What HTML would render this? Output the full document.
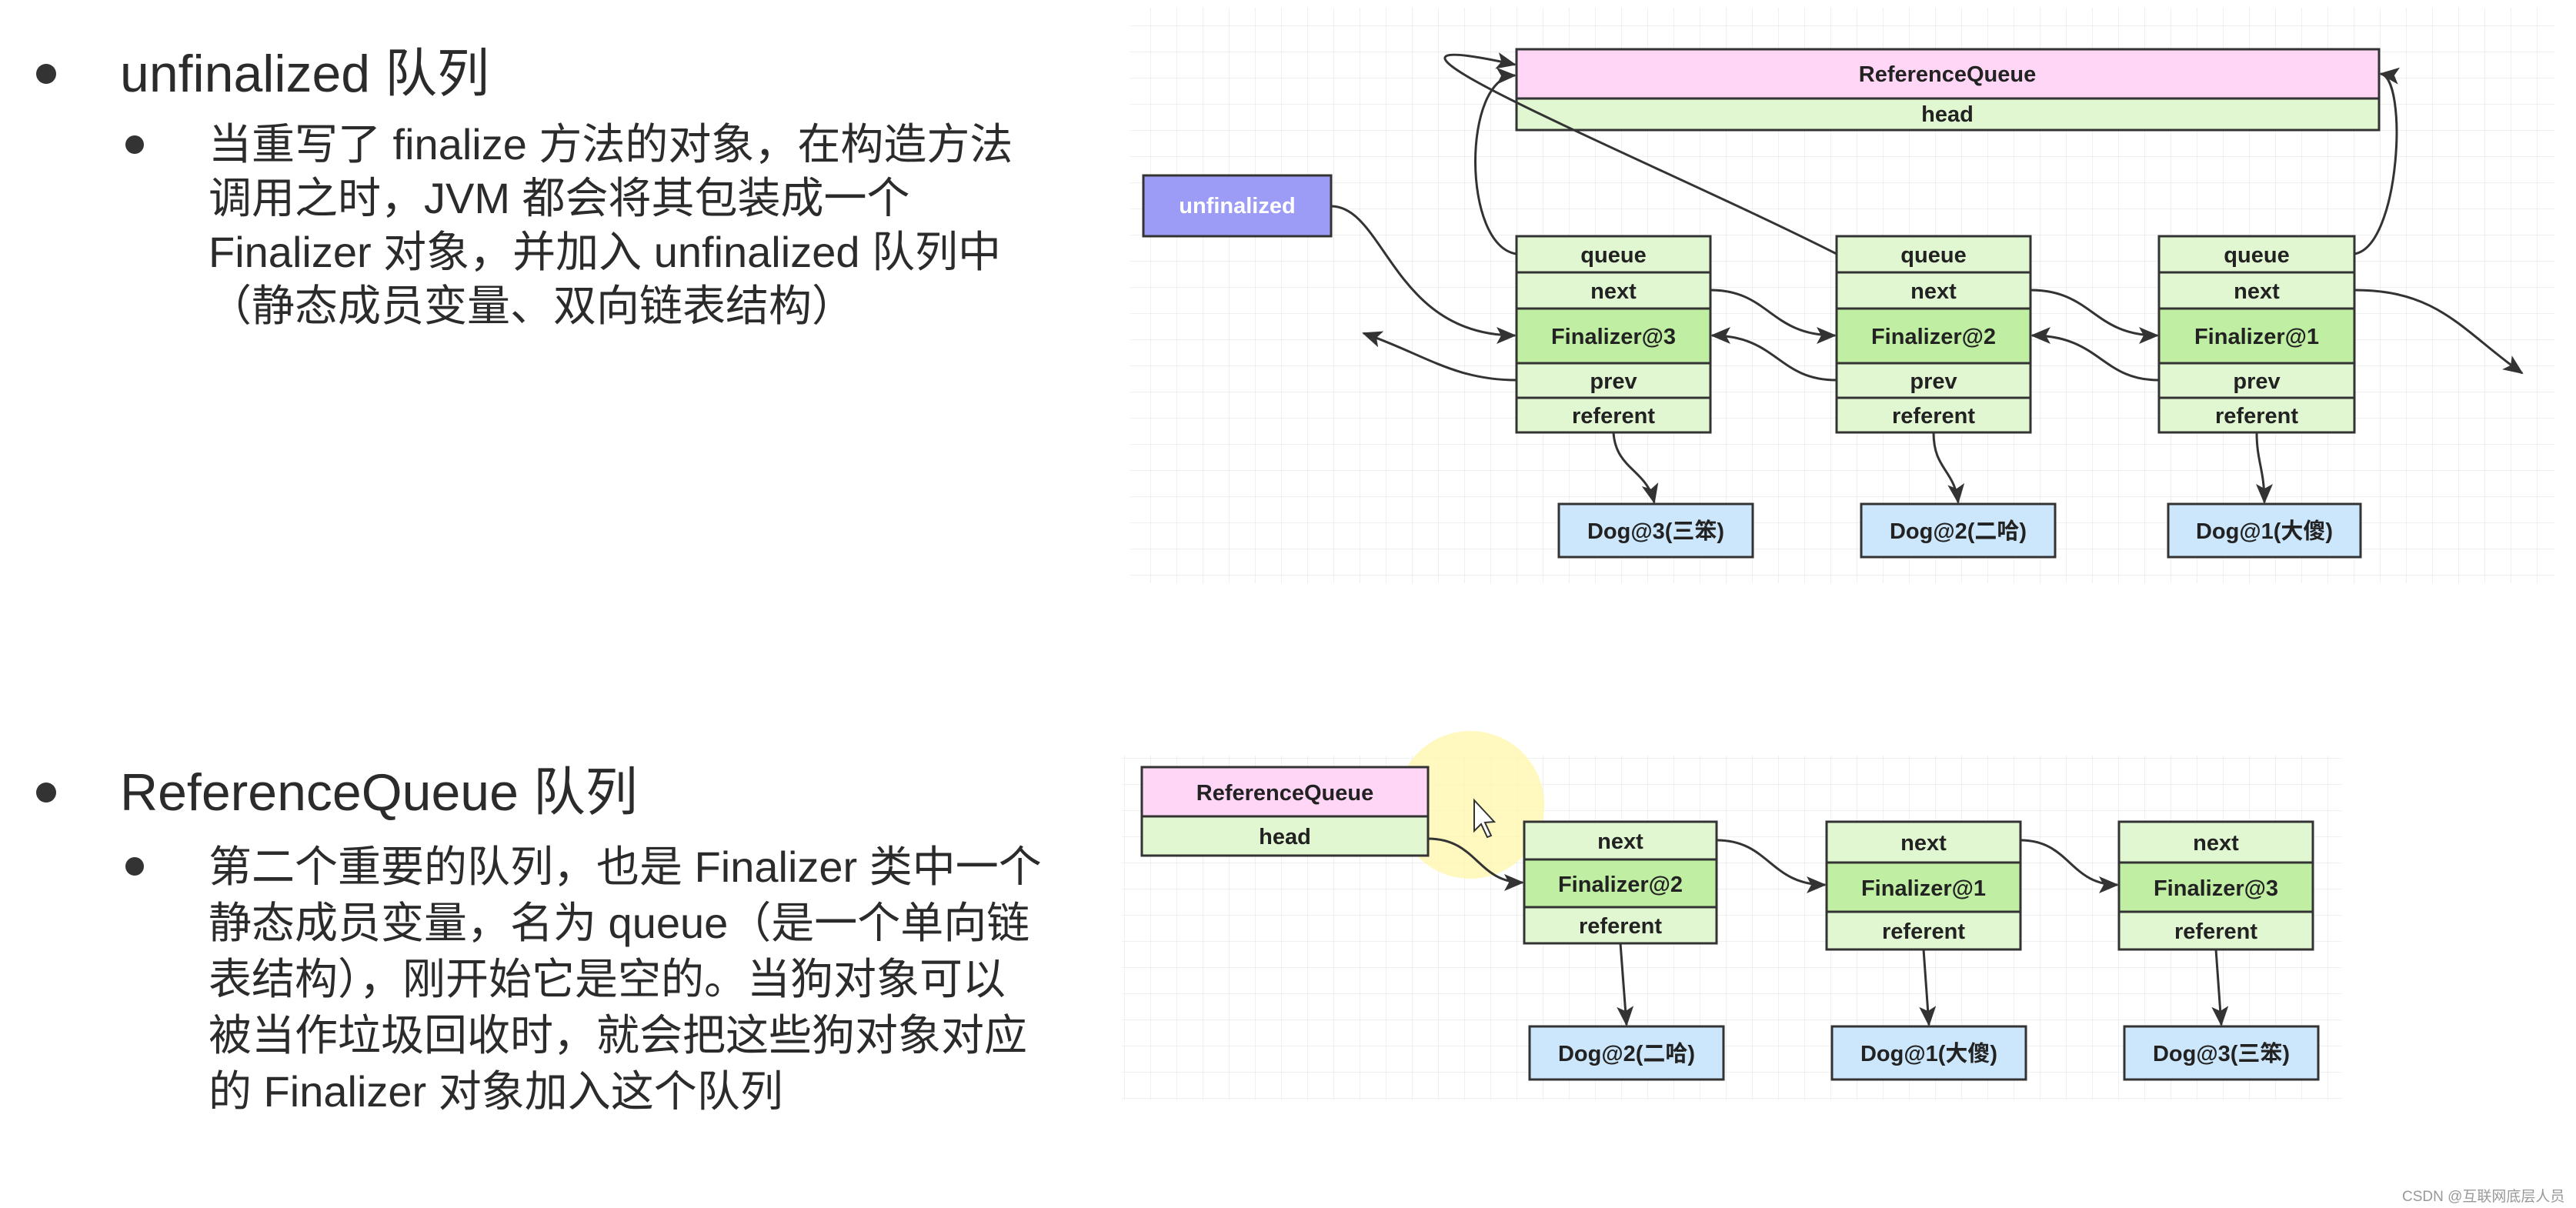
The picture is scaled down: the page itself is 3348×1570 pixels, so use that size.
<!DOCTYPE html>
<html><head><meta charset="utf-8"><style>
html,body{margin:0;padding:0;background:#fff;}
body{width:3348px;height:1570px;position:relative;overflow:hidden;font-family:"Liberation Sans","Noto Sans CJK SC",sans-serif;}
.t{position:absolute;color:#2b2b2b;white-space:nowrap;}
.h{font-size:68px;left:156px;line-height:68px;}
.p{font-size:56px;left:271px;}
.dot{position:absolute;border-radius:50%;background:#333;}
</style></head><body>
<div class="dot" style="left:47px;top:83px;width:26px;height:26px"></div>
<div class="t h" style="top:62px">unfinalized 队列</div>
<div class="dot" style="left:163px;top:176px;width:24px;height:24px"></div>
<div class="t p" style="top:153px;line-height:70px">当重写了 finalize 方法的对象，在构造方法<br>调用之时，JVM 都会将其包装成一个<br>Finalizer 对象，并加入 unfinalized 队列中<br>（静态成员变量、双向链表结构）</div>

<div class="dot" style="left:47px;top:1017px;width:26px;height:26px"></div>
<div class="t h" style="top:996px">ReferenceQueue 队列</div>
<div class="dot" style="left:163px;top:1114px;width:24px;height:24px"></div>
<div class="t p" style="top:1090px;line-height:73px">第二个重要的队列，也是 Finalizer 类中一个<br>静态成员变量，名为 queue（是一个单向链<br>表结构），刚开始它是空的。当狗对象可以<br>被当作垃圾回收时，就会把这些狗对象对应<br>的 Finalizer 对象加入这个队列</div>

<div class="t" style="left:3122px;top:1540px;font-size:19px;color:#999">CSDN @互联网底层人员</div>

<svg width="3348" height="1570" style="position:absolute;left:0;top:0" xmlns="http://www.w3.org/2000/svg">
<defs>
<pattern id="g" width="34" height="34" patternUnits="userSpaceOnUse"><path d="M34 0V34H0" fill="none" stroke="#ececec" stroke-width="1.5"/></pattern>
<marker id="b" markerWidth="26" markerHeight="22" refX="24" refY="11" orient="auto" markerUnits="userSpaceOnUse" viewBox="0 0 26 22"><path d="M0,0L26,11L0,22L6,11z" fill="#333"/></marker>
</defs>
<rect x="1469" y="10" width="1851" height="748" fill="url(#g)"/>
<rect x="1458" y="982" width="1585" height="448" fill="url(#g)"/>
<circle cx="1911" cy="1046" r="96" fill="#fff7b0" opacity="0.8"/>
<g font-family="Liberation Sans, Noto Sans CJK SC, sans-serif" font-size="28" font-weight="bold" text-anchor="middle" fill="#222" stroke="#333" stroke-width="3">
<rect x="1971" y="64" width="1121" height="64" fill="#ffd6f6"/>
<rect x="1971" y="128" width="1121" height="41" fill="#e0f7d2"/>
<rect x="1486" y="228" width="244" height="79" fill="#9c9cf6"/>
<rect x="1971" y="307" width="252" height="47" fill="#e0f7d2"/>
<rect x="1971" y="354" width="252" height="47" fill="#e0f7d2"/>
<rect x="1971" y="401" width="252" height="71" fill="#c0eea3"/>
<rect x="1971" y="472" width="252" height="45" fill="#e0f7d2"/>
<rect x="1971" y="517" width="252" height="45" fill="#e0f7d2"/>
<rect x="2387" y="307" width="252" height="47" fill="#e0f7d2"/>
<rect x="2387" y="354" width="252" height="47" fill="#e0f7d2"/>
<rect x="2387" y="401" width="252" height="71" fill="#c0eea3"/>
<rect x="2387" y="472" width="252" height="45" fill="#e0f7d2"/>
<rect x="2387" y="517" width="252" height="45" fill="#e0f7d2"/>
<rect x="2806" y="307" width="254" height="47" fill="#e0f7d2"/>
<rect x="2806" y="354" width="254" height="47" fill="#e0f7d2"/>
<rect x="2806" y="401" width="254" height="71" fill="#c0eea3"/>
<rect x="2806" y="472" width="254" height="45" fill="#e0f7d2"/>
<rect x="2806" y="517" width="254" height="45" fill="#e0f7d2"/>
<rect x="2026" y="655" width="252" height="69" fill="#cce6fb"/>
<rect x="2419" y="655" width="252" height="69" fill="#cce6fb"/>
<rect x="2818" y="655" width="250" height="69" fill="#cce6fb"/>
<rect x="1484" y="997" width="372" height="64" fill="#ffd6f6"/>
<rect x="1484" y="1061" width="372" height="51" fill="#e0f7d2"/>
<rect x="1981" y="1068" width="250" height="49" fill="#e0f7d2"/>
<rect x="1981" y="1117" width="250" height="62" fill="#c0eea3"/>
<rect x="1981" y="1179" width="250" height="47" fill="#e0f7d2"/>
<rect x="2374" y="1068" width="252" height="53" fill="#e0f7d2"/>
<rect x="2374" y="1121" width="252" height="64" fill="#c0eea3"/>
<rect x="2374" y="1185" width="252" height="49" fill="#e0f7d2"/>
<rect x="2754" y="1068" width="252" height="53" fill="#e0f7d2"/>
<rect x="2754" y="1121" width="252" height="64" fill="#c0eea3"/>
<rect x="2754" y="1185" width="252" height="49" fill="#e0f7d2"/>
<rect x="1988" y="1334" width="252" height="69" fill="#cce6fb"/>
<rect x="2381" y="1334" width="252" height="69" fill="#cce6fb"/>
<rect x="2761" y="1334" width="252" height="69" fill="#cce6fb"/>
</g>
<g font-family="Liberation Sans, Noto Sans CJK SC, sans-serif" font-size="29" font-weight="bold" text-anchor="middle" fill="#222">
<text x="2531" y="106">ReferenceQueue</text>
<text x="2531" y="158">head</text>
<text x="1608" y="277" fill="#fff">unfinalized</text>
<text x="2097" y="341">queue</text><text x="2097" y="388">next</text><text x="2097" y="447">Finalizer@3</text><text x="2097" y="505">prev</text><text x="2097" y="550">referent</text>
<text x="2513" y="341">queue</text><text x="2513" y="388">next</text><text x="2513" y="447">Finalizer@2</text><text x="2513" y="505">prev</text><text x="2513" y="550">referent</text>
<text x="2933" y="341">queue</text><text x="2933" y="388">next</text><text x="2933" y="447">Finalizer@1</text><text x="2933" y="505">prev</text><text x="2933" y="550">referent</text>
<text x="2152" y="700">Dog@3(三笨)</text><text x="2545" y="700">Dog@2(二哈)</text><text x="2943" y="700">Dog@1(大傻)</text>
<text x="1670" y="1040">ReferenceQueue</text><text x="1670" y="1097">head</text>
<text x="2106" y="1103">next</text><text x="2106" y="1159">Finalizer@2</text><text x="2106" y="1213">referent</text>
<text x="2500" y="1105">next</text><text x="2500" y="1164">Finalizer@1</text><text x="2500" y="1220">referent</text>
<text x="2880" y="1105">next</text><text x="2880" y="1164">Finalizer@3</text><text x="2880" y="1220">referent</text>
<text x="2114" y="1379">Dog@2(二哈)</text><text x="2507" y="1379">Dog@1(大傻)</text><text x="2887" y="1379">Dog@3(三笨)</text>
</g>
<g fill="none" stroke="#333" stroke-width="3" marker-end="url(#b)">
<path d="M1730,268 C1800,268 1810,436 1969,436"/>
<path d="M1971,330 C1900,320 1900,100 1969,98"/>
<path d="M2387,330 C2150,210 1680,20 1969,84"/>
<path d="M3060,330 C3120,320 3130,100 3094,96"/>
<path d="M2223,377 C2300,377 2300,436 2385,436"/>
<path d="M2639,377 C2720,377 2720,436 2804,436"/>
<path d="M3060,377 C3170,377 3200,430 3278,485"/>
<path d="M2387,494 C2310,494 2310,436 2225,436"/>
<path d="M2806,494 C2730,494 2730,436 2641,436"/>
<path d="M1971,494 C1890,494 1850,460 1772,433"/>
<path d="M2097,562 C2100,610 2140,610 2150,653"/>
<path d="M2513,562 C2513,610 2540,610 2545,653"/>
<path d="M2933,562 C2933,600 2943,610 2943,653"/>
<path d="M1856,1090 C1920,1090 1920,1147 1979,1147"/>
<path d="M2231,1092 C2300,1092 2300,1150 2372,1150"/>
<path d="M2626,1092 C2690,1092 2690,1150 2752,1150"/>
<path d="M2106,1226 L2114,1332"/>
<path d="M2500,1234 L2507,1332"/>
<path d="M2880,1234 L2887,1332"/>
</g>
<path d="M1916,1040 L1916,1080 L1925,1071 L1933,1088 L1938,1086 L1930,1069 L1942,1068 Z" fill="#fff" stroke="#333" stroke-width="2"/>
</svg>
</body></html>
